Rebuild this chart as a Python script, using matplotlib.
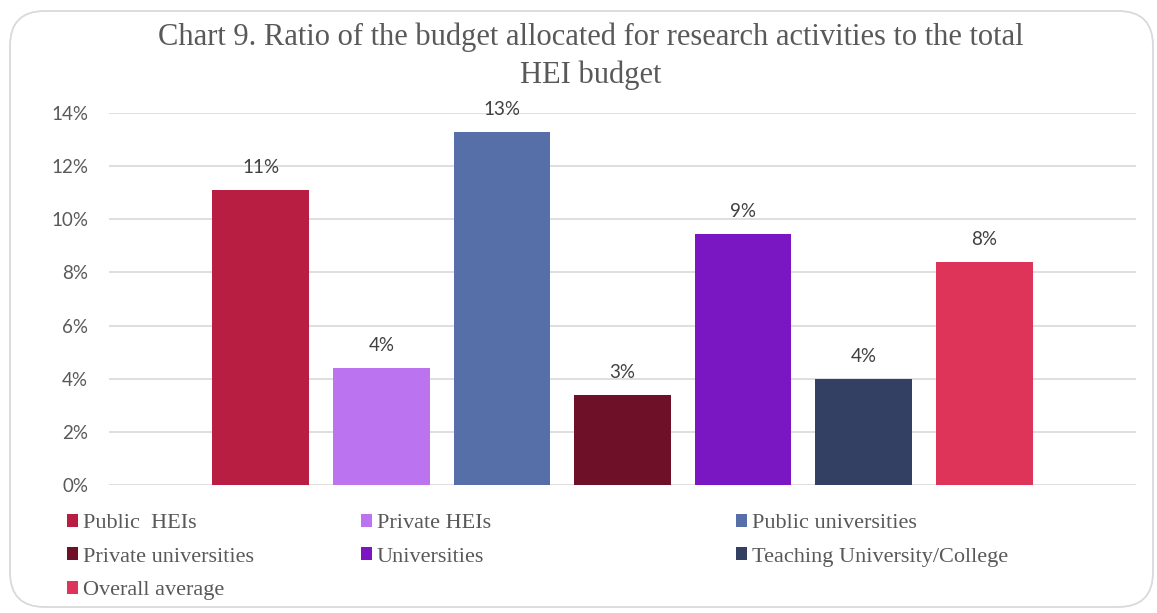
import matplotlib.pyplot as plt
from matplotlib.patches import FancyBboxPatch, Patch
from matplotlib.ticker import PercentFormatter

# Research budget share of total HEI budget, by institution group
groups = ['Public  HEIs', 'Private HEIs', 'Public universities',
          'Private universities', 'Universities', 'Teaching University/College',
          'Overall average']
shares = [0.111, 0.044, 0.133, 0.034, 0.0945, 0.040, 0.084]
colors = ['#B71E42', '#BC73EF', '#566FA8', '#6D1028', '#7A16C2', '#344063', '#DE345A']

W, H = 1157, 613
fig = plt.figure(figsize=(W / 100, H / 100), dpi=100)

# rounded outer frame, kept behind the axes
frame = FancyBboxPatch((10 / W, 6 / H), 1143 / W, 596 / H,
                       boxstyle='round,pad=0,rounding_size=0.03',
                       transform=fig.transFigure, facecolor='none',
                       edgecolor='#D9D9D9', linewidth=1.3, mutation_aspect=W / H,
                       zorder=-1)
fig.patches.append(frame)

ax = fig.add_axes([109 / W, 1 - 485 / H, 1027 / W, 372 / H])
ax.set_facecolor('none')

x = range(len(groups))
bars = ax.bar(x, shares, width=0.8, color=colors, zorder=3)
ax.bar_label(bars, labels=[f'{v:.0%}' for v in shares], padding=10,
             fontsize=13.5, family='Lato', color='#404040')

ax.set_xlim(-1.258, 6.0 + 1.258)
ax.set_ylim(0, 0.14)
ax.set_yticks([0, 0.02, 0.04, 0.06, 0.08, 0.10, 0.12, 0.14])
ax.yaxis.set_major_formatter(PercentFormatter(1.0, decimals=0))
ax.set_xticks([])
ax.tick_params(axis='y', length=0, pad=15, labelsize=13.5, labelcolor='#595959')
for lab in ax.get_yticklabels():
    lab.set_family('Lato')
ax.grid(axis='y', color='#D9D9D9', linewidth=1.2, zorder=0)
for s in ax.spines.values():
    s.set_visible(False)

fig.text(591 / W, 1 - 56 / H,
         'Chart 9. Ratio of the budget allocated for research activities to the total\nHEI budget',
         ha='center', va='center', fontsize=22, family='Liberation Serif',
         color='#595959', linespacing=1.4)

# legend laid out in three columns, filled row by row
col_x = [67, 361, 736]
for c in range(3):
    idx = list(range(c, len(groups), 3))
    handles = [Patch(facecolor=colors[i], edgecolor='none') for i in idx]
    fig.legend(handles, [groups[i] for i in idx], loc='upper left',
               bbox_to_anchor=(col_x[c] / W, 1 - 514 / H), frameon=False,
               prop={'family': 'Liberation Serif', 'size': 16},
               labelcolor='#595959', handlelength=0.5, handleheight=0.5,
               handletextpad=0.2, labelspacing=0.64, borderpad=0, borderaxespad=0)

fig.savefig('out.png', dpi=100)
